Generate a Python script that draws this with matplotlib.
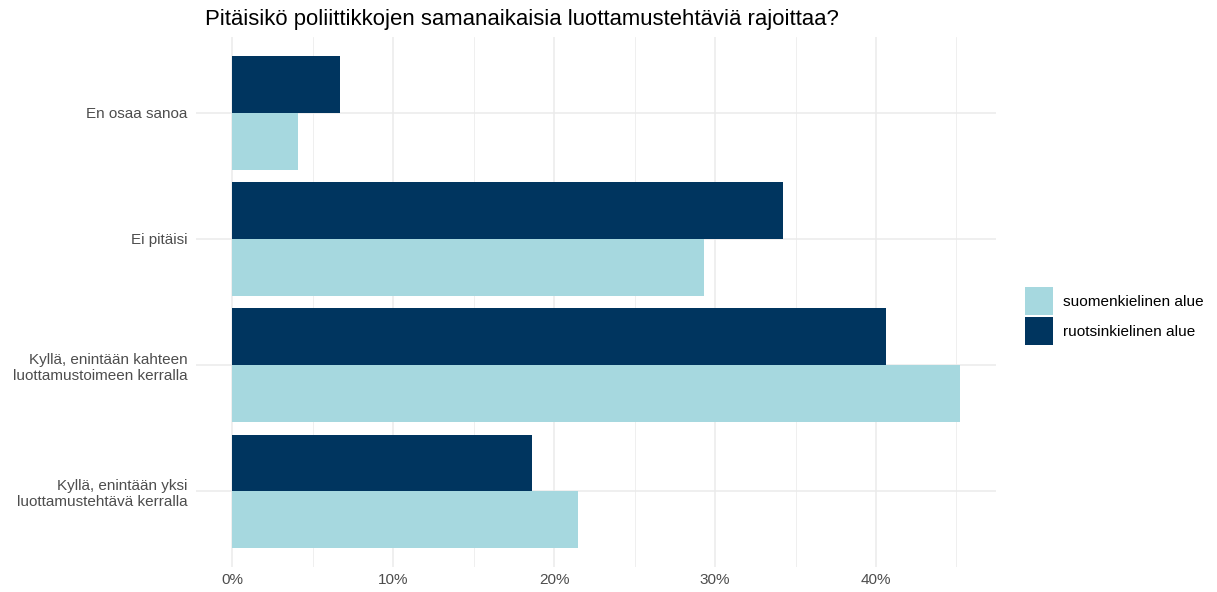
import matplotlib
matplotlib.use("Agg")
import matplotlib.pyplot as plt
import numpy as np
from matplotlib.patches import Patch
from matplotlib.ticker import FuncFormatter, MultipleLocator

plt.rcParams['font.family'] = ['Liberation Sans', 'DejaVu Sans']

categories = ["Kyllä, enintään yksi\nluottamustehtävä kerralla",
              "Kyllä, enintään kahteen\nluottamustoimeen kerralla",
              "Ei pitäisi",
              "En osaa sanoa"]
suomi = [21.5, 45.2, 29.3, 4.1]
ruotsi = [18.6, 40.6, 34.2, 6.7]
series_names = ["suomenkielinen alue", "ruotsinkielinen alue"]
colors = ["#A6D8DF", "#00355F"]

fig = plt.figure(figsize=(12.17, 5.92), dpi=100)
ax = fig.add_axes([196/1217, 1-567/592, 800/1217, 530/592])

y = np.arange(len(categories))
h = 0.45
ax.barh(y - h/2, suomi, height=h, color=colors[0], zorder=3)
ax.barh(y + h/2, ruotsi, height=h, color=colors[1], zorder=3)

xmax = max(max(suomi), max(ruotsi))
ax.set_xlim(-0.05*xmax, 1.05*xmax)
ax.set_ylim(-0.6, len(categories)-1+0.6)
ax.set_yticks(y)
ax.set_yticklabels(categories)
ax.xaxis.set_major_locator(MultipleLocator(10))
ax.xaxis.set_minor_locator(MultipleLocator(5))
ax.xaxis.set_major_formatter(FuncFormatter(lambda v, p: f"{v:.0f}%"))

ax.grid(which='major', color='#EBEBEB', linewidth=1.1, zorder=0)
ax.grid(which='minor', axis='x', color='#EBEBEB', linewidth=0.55, zorder=0)
for s in ax.spines.values():
    s.set_visible(False)
ax.tick_params(which='both', length=0, labelsize=11, labelcolor='#4D4D4D', pad=4)
ax.tick_params(axis='y', pad=6)
for t in ax.get_yticklabels():
    t.set_multialignment('right')

fig.text(205/1217, 1-19/592, "Pitäisikö poliittikkojen samanaikaisia luottamustehtäviä rajoittaa?",
         fontsize=15.9, color='black', va='center', ha='left')

handles = [Patch(facecolor=colors[0]), Patch(facecolor=colors[1])]
leg = fig.legend(handles, series_names, loc='center left', bbox_to_anchor=(1025/1217, 1-316/592),
                 frameon=False, fontsize=11.1, handlelength=1.83, handleheight=2.42,
                 handletextpad=0.65, labelspacing=0.13, borderaxespad=0, borderpad=0)

fig.savefig("out.png", dpi=100)
